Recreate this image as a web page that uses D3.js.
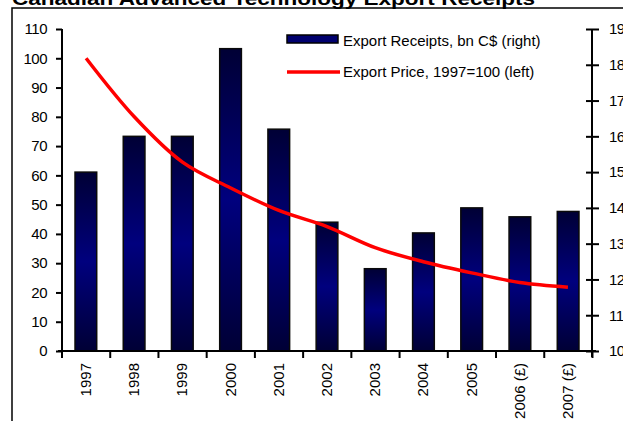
<!DOCTYPE html>
<html>
<head>
<meta charset="utf-8">
<script src="https://cdnjs.cloudflare.com/ajax/libs/d3/7.8.5/d3.min.js"></script>
<style>
  body { margin: 0; background: #fff; }
  svg { display: block; font-family: "Liberation Sans", Arial, sans-serif; }
</style>
</head>
<body>
<script>
(function(){
    var years = ["1997", "1998", "1999", "2000", "2001", "2002", "2003", "2004", "2005", "2006 (£)", "2007 (£)"];
    var receipts = [15.0, 16.0, 16.0, 18.45, 16.2, 13.6, 12.3, 13.3, 14.0, 13.75, 13.9];
    var price = [100, 80, 64.5, 55.7, 48, 42.5, 35.3, 30.5, 26.7, 23.4, 21.8];
    var leftTicks = [0, 10, 20, 30, 40, 50, 60, 70, 80, 90, 100, 110];
    var rightTicks = [10, 11, 12, 13, 14, 15, 16, 17, 18, 19];

    var svgWidth = 623;
    var svgHeight = 421;
    var left = 62, right = 592, top = 29, bottom = 351;

    var svg = d3.select("body").append("svg")
        .attr("width", svgWidth).attr("height", svgHeight);

    var defs = svg.append("defs");
    var grad = defs.append("linearGradient").attr("id", "barGrad")
        .attr("x1", 0).attr("y1", 0).attr("x2", 0).attr("y2", 1);
    grad.append("stop").attr("offset", "0%").attr("stop-color", "#000035");
    grad.append("stop").attr("offset", "50%").attr("stop-color", "#00007e");
    grad.append("stop").attr("offset", "100%").attr("stop-color", "#000035");

    // outer chart frame (cropped)
    svg.append("rect").attr("x", 12).attr("y", 8)
        .attr("width", 800).attr("height", 600)
        .attr("fill", "none").attr("stroke", "#000").attr("stroke-width", 1.5);

    svg.append("text").attr("x", 12).attr("y", 5)
        .attr("font-size", 19).attr("font-weight", "bold")
        .attr("textLength", 523).attr("lengthAdjust", "spacingAndGlyphs")
        .text("Canadian Advanced Technology Export Receipts");

    var x = d3.scaleBand().domain(years).range([left, right]).paddingInner(0.55).paddingOuter(0.27);
    var xPoint = d3.scalePoint().domain(years).range([left, right]).padding(0.5);
    var yLeft = d3.scaleLinear().domain([0, 110]).range([bottom, top]);
    var yRight = d3.scaleLinear().domain([10, 19]).range([bottom, top]);

    // bars
    svg.selectAll("rect.bar").data(receipts).enter()
        .append("rect").attr("class", "bar")
        .attr("x", function (d, i) { return x(years[i]); })
        .attr("width", x.bandwidth())
        .attr("y", function (d) { return yRight(d); })
        .attr("height", function (d) { return yRight(10) - yRight(d); })
        .attr("fill", "url(#barGrad)")
        .attr("stroke", "#0a0a0a").attr("stroke-width", 1.5);

    // line
    var line = d3.line()
        .x(function (d, i) { return xPoint(years[i]); })
        .y(function (d) { return yLeft(d); })
        .curve(d3.curveCatmullRom.alpha(0.5));
    svg.append("path").datum(price)
        .attr("d", line)
        .attr("fill", "none").attr("stroke", "#ff0000")
        .attr("stroke-width", 3.5).attr("stroke-linejoin", "round");

    // left axis
    var gLeft = svg.append("g").attr("transform", "translate(" + left + ",0)")
        .call(d3.axisLeft(yLeft).tickValues(leftTicks).tickSize(6).tickPadding(9));
    // right axis
    var gRight = svg.append("g").attr("transform", "translate(" + right + ",0)")
        .call(d3.axisRight(yRight).tickValues(rightTicks).tickSize(7).tickPadding(10));
    gRight.selectAll(".tick line").attr("x1", -6);
    // x axis
    var gX = svg.append("g").attr("transform", "translate(0," + bottom + ")");
    gX.append("line").attr("x1", left - 4).attr("x2", right + 4)
        .attr("stroke", "#000").attr("stroke-width", 2);
    var bounds = d3.range(years.length + 1).map(function (i) { return left + i * x.step(); });
    gX.selectAll("line.b").data(bounds).enter().append("line").attr("class", "b")
        .attr("x1", function (d) { return d; }).attr("x2", function (d) { return d; })
        .attr("y1", 0).attr("y2", 7).attr("stroke", "#000").attr("stroke-width", 2);
    gX.selectAll("text.lbl").data(years).enter().append("text").attr("class", "lbl")
        .attr("transform", function (d) { return "translate(" + (xPoint(d) + 5) + ",12) rotate(-90)"; })
        .attr("text-anchor", "end").attr("font-size", 15).attr("fill", "#000")
        .text(function (d) { return d; });

    [gLeft, gRight].forEach(function (g) {
        g.selectAll(".tick line").attr("stroke-width", 2);
        g.selectAll("text").attr("font-size", 15).attr("font-family", "Liberation Sans, Arial, sans-serif")
            .attr("fill", "#000").attr("letter-spacing", -0.5);
        g.selectAll("path.domain").attr("stroke-width", 2)
            .attr("d", g === gLeft ? "M0," + top + "V" + bottom : "M0," + top + "V" + (bottom + 6));
    });

    // legend
    var lg = svg.append("g");
    lg.append("rect").attr("x", 287).attr("y", 35).attr("width", 51).attr("height", 8)
        .attr("fill", "#00006e").attr("stroke", "#000").attr("stroke-width", 1.5);
    lg.append("text").attr("x", 343).attr("y", 46).attr("font-size", 15)
        .text("Export Receipts, bn C$ (right)");
    lg.append("line").attr("x1", 287).attr("x2", 340).attr("y1", 72).attr("y2", 72)
        .attr("stroke", "#ff0000").attr("stroke-width", 3.5);
    lg.append("text").attr("x", 343).attr("y", 77).attr("font-size", 15)
        .text("Export Price, 1997=100 (left)");
})();
</script>
</body>
</html>
